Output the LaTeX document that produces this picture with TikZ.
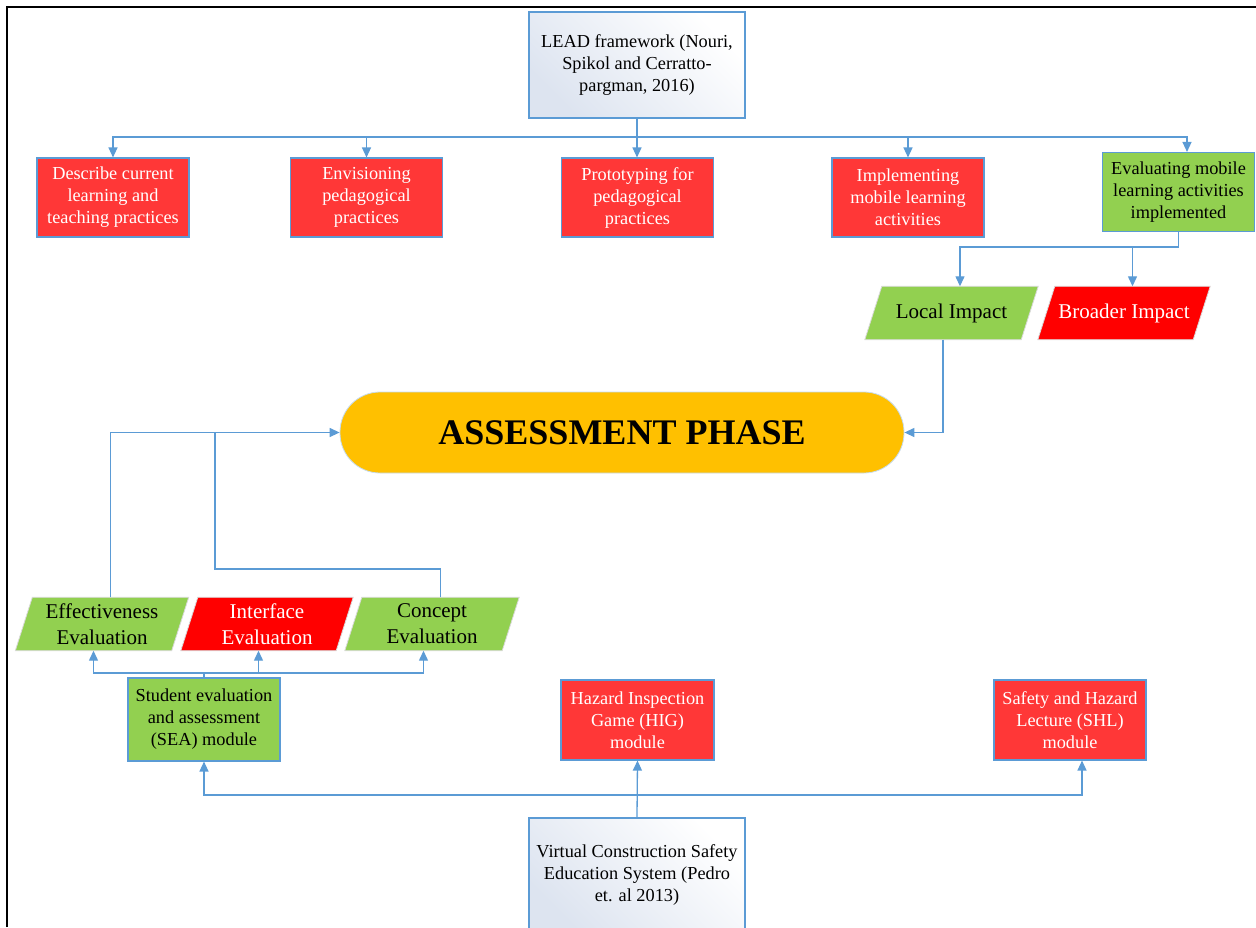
\documentclass[tikz,border=0pt]{standalone}
\usepackage{fontspec}
\setmainfont{Liberation Serif}
\usetikzlibrary{calc,arrows.meta,backgrounds}
\definecolor{linkblue}{HTML}{5B9BD5}
\definecolor{boxred}{HTML}{FF3737}
\definecolor{purered}{HTML}{FF0000}
\definecolor{leafgreen}{HTML}{92D050}
\definecolor{amber}{HTML}{FFC000}
\definecolor{mist}{HTML}{DDE4F0}
% slanted backdrop behind a lean node: corners taken from the node's box
\newcommand{\leanfill}[2]{%
  \path[#2] (#1.south west) -- ($(#1.north west)+(17,0)$) -- (#1.north east)
    -- ($(#1.south east)+(-17,0)$) -- cycle;}
\begin{document}
\begin{tikzpicture}[x=1pt,y=-1pt,
  conn/.style={draw=linkblue, line width=1.3pt},
  arr/.style={conn,-{Triangle[length=10pt,width=9pt]}},
  card/.style={rectangle, draw=linkblue, line width=1.1pt, align=center,
    font=\fontsize{18.3}{22}\selectfont, inner sep=2pt},
  redcard/.style={card, fill=boxred, text=white},
  greencard/.style={card, fill=leafgreen, text=black},
  sourcecard/.style={card, shading=axis, top color=mist, bottom color=white, shading angle=135},
  lean/.style={rectangle, align=center, font=\fontsize{21}{26}\selectfont,
    inner sep=1pt, minimum height=53pt},
  leanback/.style={draw=black!15, line width=0.8pt},
]
\useasboundingbox (0,0) rectangle (1256,927);
\begin{scope}
\clip (0,0) rectangle (1256,927);

% outer frame (top and left edges only)
\draw[line width=2.5pt] (7,927) -- (7,7) -- (1256,7);

% LEAD framework branch
\node[sourcecard, minimum width=216pt, minimum height=106pt] (lead) at (637,65)
  {LEAD framework (Nouri,\\Spikol and Cerratto-\\pargman, 2016)};

\node[redcard, minimum width=152pt, minimum height=79pt] (p1) at (113,197.5)
  {Describe current\\learning and\\teaching practices};
\node[redcard, minimum width=152pt, minimum height=79pt] (p2) at (366.5,197.5)
  {Envisioning\\pedagogical\\practices};
\node[redcard, minimum width=152pt, minimum height=79pt] (p3) at (637.5,197.5)
  {Prototyping for\\pedagogical\\practices};
\node[redcard, minimum width=152pt, minimum height=79pt] (p4) at (908,197.5)
  {Implementing\\mobile learning\\activities};
\node[greencard, minimum width=152pt, minimum height=79pt] (p5) at (1178.5,192)
  {Evaluating mobile\\learning activities\\implemented};

\coordinate (hub) at (637,137);
\draw[conn] (lead.south) -- (hub);
\draw[arr] (hub) -| (p1.north);
\draw[arr] (hub) -| (p2.north);
\draw[arr] (hub) -- (hub |- p3.north);
\draw[arr] (hub) -| (p4.north);
\draw[arr] (hub) -| ($(p5.north)+(8.5,0)$);

% impacts
\node[lean, minimum width=173pt] (local) at (951.5,313) {Local Impact};
\node[lean, text=white, minimum width=172pt] (broad) at (1124,313) {Broader Impact};

\coordinate (fork) at ($(p5.south)+(0,15)$);
\draw[conn] (p5.south) -- (fork);
\draw[arr] (fork) -| ($(local.north)+(8.5,0)$);
\draw[arr] (fork) -| ($(broad.north)+(8.5,0)$);

% central phase
\node[draw=linkblue!35, line width=0.8pt, fill=amber, rounded corners=40pt,
  minimum width=564pt, minimum height=81pt,
  font=\fontsize{36}{40}\selectfont\bfseries] (assess) at (622,432.5) {ASSESSMENT PHASE};

\draw[arr] ($(local.south)+(-8.5,0)$) |- (assess.east);

% evaluation types
\node[lean, minimum width=173pt] (eff) at (102,624) {Effectiveness\\Evaluation};
\node[lean, text=white, minimum width=172pt] (inter) at (267,624) {Interface\\Evaluation};
\node[lean, minimum width=174pt] (conc) at (432,624) {Concept\\Evaluation};

\coordinate (knee) at (215,569);
\draw[arr] ($(eff.north)+(8.5,0)$) |- (assess.west);
\draw[conn] ($(conc.north)+(8.5,0)$) |- (knee) -- (knee |- assess.west);

% modules
\node[greencard, minimum width=152pt, minimum height=83pt] (sea) at (204,719.5)
  {Student evaluation\\and assessment\\(SEA) module};
\node[redcard, minimum width=153pt, minimum height=80pt] (hig) at (637.5,720)
  {Hazard Inspection\\Game (HIG)\\module};
\node[redcard, minimum width=152pt, minimum height=80pt] (shl) at (1070,720)
  {Safety and Hazard\\Lecture (SHL)\\module};

\coordinate (tee) at (204,673);
\draw[conn] (sea.north) -- (tee);
\draw[arr] (tee) -| ($(eff.south)+(-8.5,0)$);
\draw[arr] (tee) -| ($(inter.south)+(-8.5,0)$);
\draw[arr] (tee) -| ($(conc.south)+(-8.5,0)$);

% source system
\node[sourcecard, minimum width=216pt, minimum height=114pt] (virt) at (637,875)
  {Virtual Construction Safety\\Education System (Pedro\\et. al 2013)};

\coordinate (rail) at (637,795);
\draw[arr] (virt.north) -- (hig.south);
\draw[arr] (rail) -| (sea.south);
\draw[arr] (rail) -| ($(shl.south)+(12,0)$);

% slanted backdrops of the lean nodes
\begin{scope}[on background layer]
  \leanfill{local}{leanback, fill=leafgreen}
  \leanfill{broad}{leanback, fill=purered}
  \leanfill{eff}{leanback, fill=leafgreen}
  \leanfill{inter}{leanback, fill=purered}
  \leanfill{conc}{leanback, fill=leafgreen}
\end{scope}
\end{scope}
\end{tikzpicture}
\end{document}
